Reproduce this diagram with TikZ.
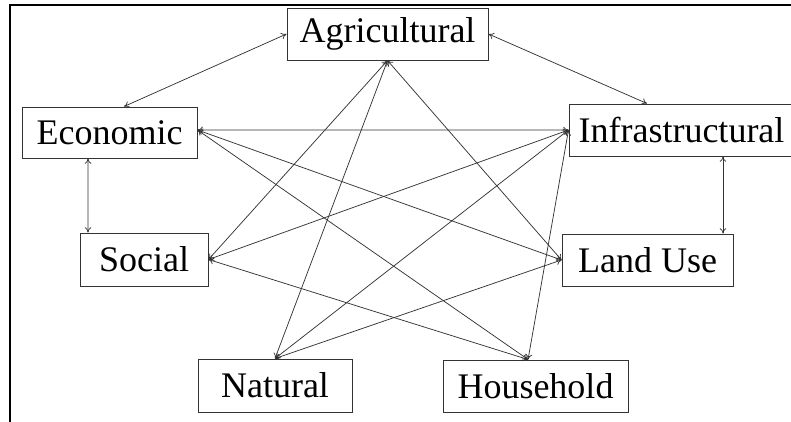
\documentclass[tikz,border=0pt]{standalone}
\usepackage{fontspec}
\setmainfont{Liberation Serif}
\usetikzlibrary{arrows.meta}
\begin{document}
\begin{tikzpicture}[x=0.75pt,y=-0.75pt,
  box/.style={draw=black!80, line width=0.75pt, rectangle, inner sep=0pt,
    font=\fontsize{27}{30}\selectfont, fill=white},
  link/.style={draw=black!80, line width=0.55pt,
    {To[length=4pt,width=5pt]}-{To[length=4pt,width=5pt]}}]
\useasboundingbox (0,0) rectangle (791,421);
\fill[white] (0,0) rectangle (791,421);
% outer frame (left and top edges)
\draw[line width=1.5pt] (10,425) -- (10,5) -- (795,5);

% sectors
\node[box, minimum width=150.75pt, minimum height=39pt]    (agr) at (387.5,34)  {Agricultural};
\node[box, minimum width=131.25pt, minimum height=38.25pt] (eco) at (109.5,132.5) {Economic};
\node[box, minimum width=168.75pt, minimum height=39pt]    (inf) at (681.5,130) {Infrastructural};
\node[box, minimum width=96pt,     minimum height=39.75pt] (soc) at (144,259.5) {Social};
\node[box, minimum width=128.25pt, minimum height=39pt]    (lan) at (647.5,260) {Land Use};
\node[box, minimum width=115.5pt,  minimum height=39.75pt] (nat) at (275,385.5) {Natural};
\node[box, minimum width=138.75pt, minimum height=39pt]    (hou) at (535.5,386) {Household};

% attachment points
\coordinate (ecotop) at ([xshift=10.9pt]eco.north);
\coordinate (inftop) at ([xshift=-25.9pt]inf.north);
\coordinate (ecobot) at ([xshift=-16.1pt]eco.south);
\coordinate (soctop) at ([xshift=-42pt]soc.north);
\coordinate (infbot) at ([xshift=31.1pt]inf.south);
\coordinate (lantop) at ([xshift=56.6pt]lan.north);
\coordinate (ecoright) at ([yshift=1.9pt]eco.east);
\coordinate (houtop) at ([xshift=-5.6pt]hou.north);

% links around the ring
\draw[link] (agr.west) -- (ecotop);
\draw[link] (agr.east) -- (inftop);
\draw[link] (ecobot) -- (soctop);
\draw[link] (infbot) -- (lantop);
\draw[link] (ecoright) -- (inf.west);

% cross links
\draw[link] (agr.south) -- (soc.east);
\draw[link] (agr.south) -- (nat.north);
\draw[link] (agr.south) -- (lan.west);
\draw[link] (ecoright) -- (houtop);
\draw[link] (ecoright) -- (lan.west);
\draw[link] (inf.west) -- (soc.east);
\draw[link] (inf.west) -- (nat.north);
\draw[link] (inf.west) -- (houtop);
\draw[link] (soc.east) -- (houtop);
\draw[link] (nat.north) -- (lan.west);
\end{tikzpicture}
\end{document}
